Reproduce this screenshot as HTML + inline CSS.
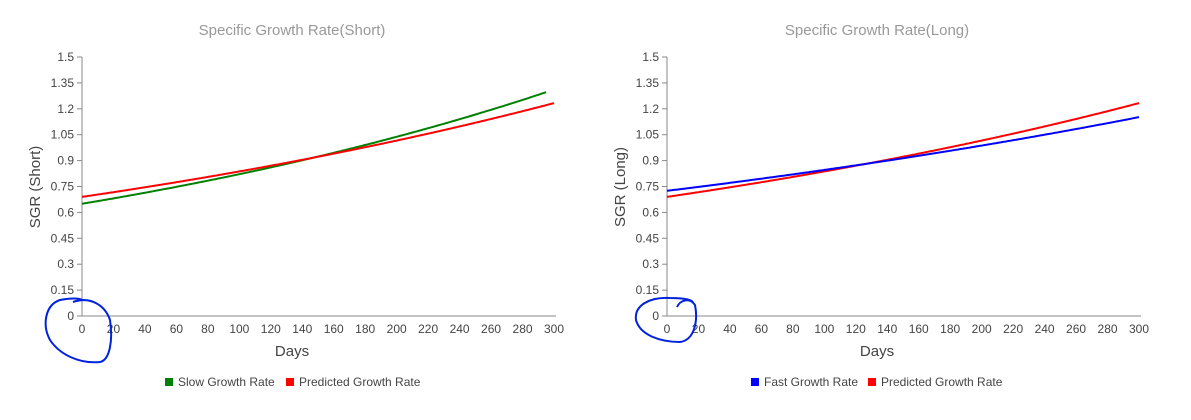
<!DOCTYPE html>
<html><head><meta charset="utf-8"><style>
body{margin:0;background:#fff;width:1191px;height:415px;overflow:hidden}
svg{font-family:"Liberation Sans",Arial,sans-serif}
</style></head><body>
<svg id="s" width="1191" height="415" xmlns="http://www.w3.org/2000/svg"></svg>
<script>
const s=document.getElementById('s');let h='';
const Y0=316,PY=(316-57)/1.5;
function chart(ax,title,ylab,series,legend,lx){
  const PX=472/300;
  h+=`<text x="${ax+210}" y="35" text-anchor="middle" font-size="15" fill="#999">${title}</text>`;
  h+=`<line x1="${ax}" y1="57" x2="${ax}" y2="${Y0}" stroke="#888"/><line x1="${ax}" y1="${Y0}" x2="${ax+474}" y2="${Y0}" stroke="#888"/>`;
  const lbl=['0','0.15','0.3','0.45','0.6','0.75','0.9','1.05','1.2','1.35','1.5'];
  lbl.forEach((t,i)=>{const y=Y0-i*0.15*PY;h+=`<line x1="${ax-5}" y1="${y}" x2="${ax}" y2="${y}" stroke="#888"/><text x="${ax-8}" y="${y+4}" text-anchor="end" font-size="12" fill="#444">${t}</text>`;});
  for(let d=0;d<=300;d+=20){const x=ax+d*PX;h+=`<text x="${x}" y="333" text-anchor="middle" font-size="12" fill="#444">${d}</text>`;}
  h+=`<text x="${ax+210}" y="356" text-anchor="middle" font-size="15" fill="#444">Days</text>`;
  h+=`<text transform="translate(${ax-42},187) rotate(-90)" text-anchor="middle" font-size="15" fill="#444">${ylab}</text>`;
  series.forEach(([a,k,end,c])=>{let p='';for(let d=0;d<=end;d+=1){p+=(d?'L':'M')+(ax+d*PX).toFixed(1)+','+(Y0-a*Math.exp(k*d)*PY).toFixed(1);}h+=`<path d="${p}" fill="none" stroke="${c}" stroke-width="2"/>`;});
  let x=lx;legend.forEach(([t,c,w])=>{h+=`<rect x="${x}" y="378" width="8" height="8" fill="${c}"/><text x="${x+13}" y="386" font-size="12" fill="#444">${t}</text>`;x+=w;});
}
chart(82,'Specific Growth Rate(Short)','SGR (Short)',[[0.65,0.00234,295,'#008000'],[0.69,0.001935,300,'#ff0000']],[['Slow Growth Rate','#008000',121],['Predicted Growth Rate','#ff0000',0]],165);
chart(667,'Specific Growth Rate(Long)','SGR (Long)',[[0.69,0.001935,300,'#ff0000'],[0.725,0.001543,300,'#0000ff']],[['Fast Growth Rate','#0000ff',117],['Predicted Growth Rate','#ff0000',0]],751);
h+=`<path d="M73,302 C90,296 105,305 110,320 C113,340 110,360 100,362 C80,364 60,355 50,340 C42,325 45,305 60,300 C70,298 80,298 82,300" fill="none" stroke="#0022dd" stroke-width="2"/>`;
h+=`<path d="M677,307 C680,300 690,297 695,305 C698,320 695,340 680,342 C660,342 640,335 636,320 C634,305 650,297 670,298 C685,298 693,300 693,303" fill="none" stroke="#0022dd" stroke-width="2"/>`;
s.innerHTML=h;
</script>
</body></html>
